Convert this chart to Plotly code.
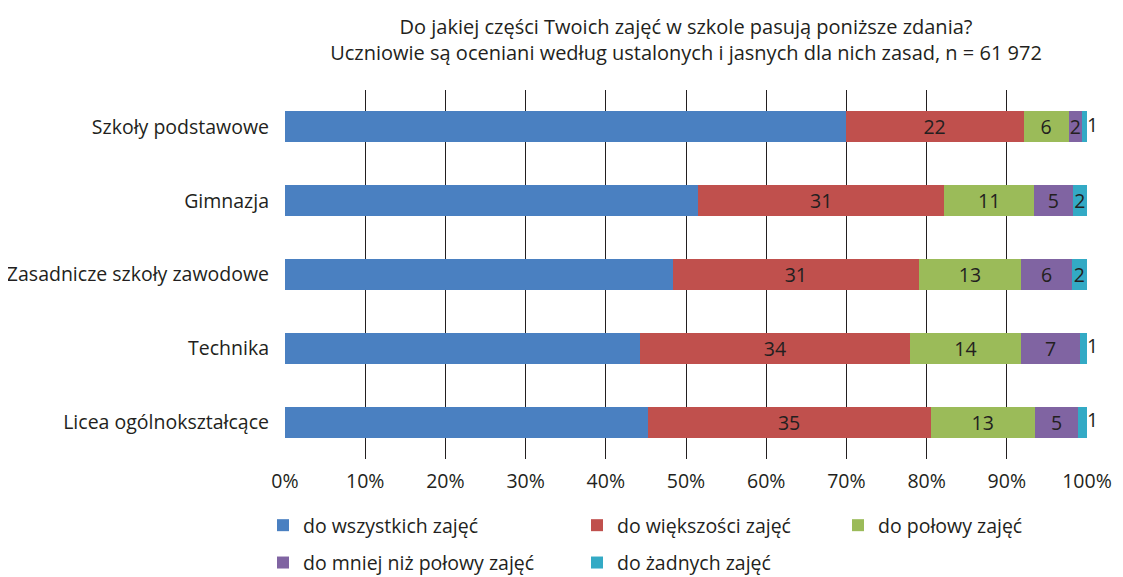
import plotly.graph_objects as go

categories = ["Szkoły podstawowe", "Gimnazja", "Zasadnicze szkoły zawodowe", "Technika", "Licea ogólnokształcące"]
series_names = ["do wszystkich zajęć", "do większości zajęć", "do połowy zajęć",
                "do mniej niż połowy zajęć", "do żadnych zajęć"]
v_all = [69.9, 51.5, 48.4, 44.3, 45.2]
v_most = [22.2, 30.7, 30.6, 33.6, 35.3]
v_half = [5.6, 11.2, 12.8, 13.9, 13.0]
v_less = [1.7, 4.8, 6.3, 7.3, 5.4]
v_none = [0.6, 1.8, 1.9, 0.9, 1.1]
tick_vals = [0, 10, 20, 30, 40, 50, 60, 70, 80, 90, 100]
tick_text = ["0%", "10%", "20%", "30%", "40%", "50%", "60%", "70%", "80%", "90%", "100%"]

colors = ["#4A80C1", "#C0504D", "#9BBB59", "#8064A2", "#33AAC5"]
FONT = "Open Sans"
FS = 19.5
TXT = "#231F20"

# page body has an 8px margin; figure is sized/positioned to compensate
W, H = 1115, 569

fig = go.Figure()
series = [v_all, v_most, v_half, v_less, v_none]
legends = ["legend", "legend2", "legend3", "legend", "legend2"]
SMALL = 1.5
for i, (name, vals) in enumerate(zip(series_names, series)):
    if i == 0:
        text = None
    elif i == 4:
        text = [f"{round(v):d}" if v >= SMALL else "" for v in vals]
    else:
        text = [f"{round(v):d}" for v in vals]
    fig.add_trace(go.Bar(
        y=categories, x=vals, name=name, orientation="h",
        marker=dict(color=colors[i], line=dict(width=0)),
        text=text, textposition="inside" if i else "none", insidetextanchor="middle",
        textangle=0, constraintext="none",
        textfont=dict(family=FONT, size=FS, color=TXT),
        legend=legends[i], legendgroup=name, cliponaxis=False,
    ))

# labels for very thin last segments, placed just past the end of the stack
totals = [round(a + b + c + d + e, 6) for a, b, c, d, e in zip(*series)]
fig.add_trace(go.Scatter(
    x=totals, y=categories, mode="text",
    text=[f"{round(v):d}" if v < SMALL else "" for v in v_none],
    textposition="middle right",
    textfont=dict(family=FONT, size=FS, color=TXT),
    showlegend=False, cliponaxis=False, hoverinfo="skip",
))

leg_common = dict(orientation="v", yref="container", xref="container",
                  yanchor="top", xanchor="left", tracegroupgap=9,
                  font=dict(family=FONT, size=FS, color=TXT),
                  bgcolor="rgba(0,0,0,0)")

LEG_TOP = 1 - 498 / H
fig.update_layout(
    width=W, height=H,
    barmode="stack",
    bargap=0.58,
    paper_bgcolor="white", plot_bgcolor="white",
    margin=dict(l=277, r=36, t=82, b=118, autoexpand=False),
    font=dict(family=FONT, size=FS, color=TXT),
    title=dict(text="Do jakiej części Twoich zajęć w szkole pasują poniższe zdania?<br>Uczniowie są oceniani według ustalonych i jasnych dla nich zasad, n = 61 972",
               x=0.5, xref="paper", xanchor="center", yref="container",
               y=1 - 25.5 / H, yanchor="middle",
               font=dict(family=FONT, size=20, color=TXT)),
    xaxis=dict(range=[0, 100], tickvals=tick_vals, ticktext=tick_text,
               showgrid=True, gridcolor="#231F20", gridwidth=1,
               zeroline=False, showline=False, ticks="", ticklabelstandoff=8,
               tickfont=dict(family=FONT, size=FS, color=TXT)),
    yaxis=dict(autorange="reversed", showgrid=False, zeroline=False, showline=False,
               ticks="", ticklabelstandoff=15,
               tickfont=dict(family=FONT, size=FS, color=TXT)),
    showlegend=True,
    legend=dict(x=255 / W, y=LEG_TOP, **leg_common),
    legend2=dict(x=569 / W, y=LEG_TOP, **leg_common),
    legend3=dict(x=830 / W, y=LEG_TOP, **leg_common),
)
fig.write_html("out.html")
